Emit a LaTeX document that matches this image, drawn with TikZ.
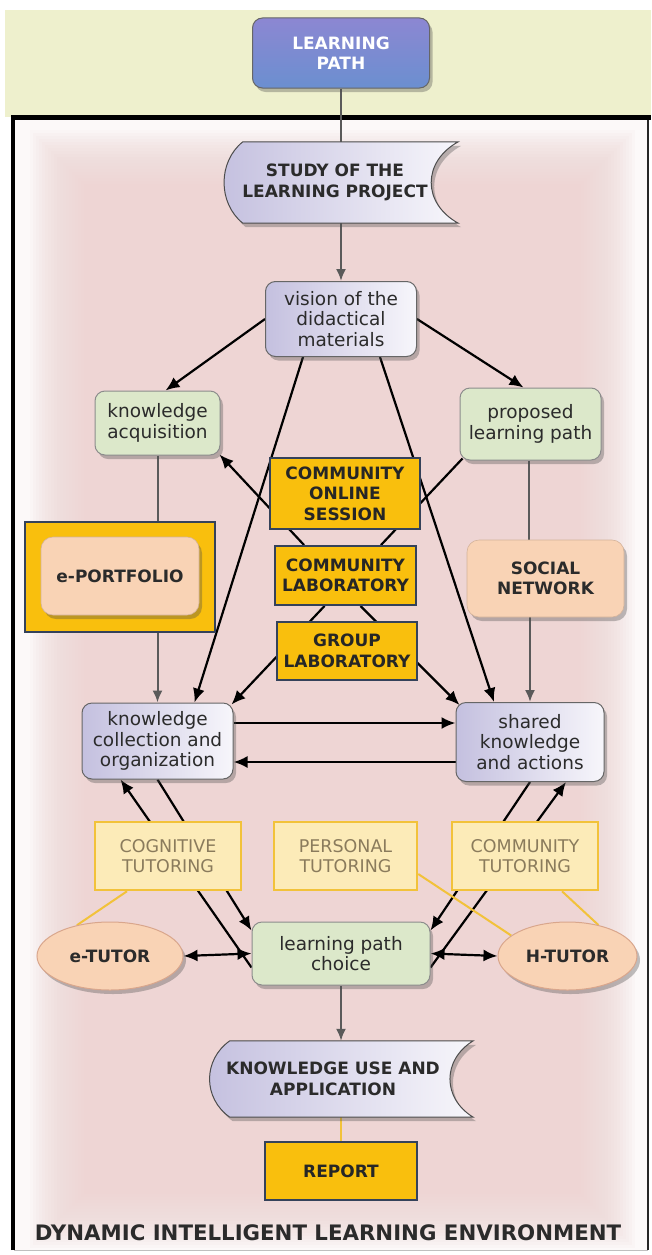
\documentclass[tikz,border=0pt]{standalone}
\usepackage{fontspec}
\setmainfont{DejaVu Sans}
\usetikzlibrary{shapes.geometric,shadows,arrows.meta,calc}
\pgfdeclarelayer{back}\pgfdeclarelayer{conn}\pgfdeclarelayer{docs}
\pgfsetlayers{back,conn,docs,main}
\definecolor{topband}{HTML}{EEF0CD}
\definecolor{pinkc}{HTML}{EED5D4}
\definecolor{edgew}{HTML}{FCF9F9}
\definecolor{lpA}{HTML}{8C87D2}
\definecolor{lpB}{HTML}{6B8FD0}
\definecolor{lavL}{HTML}{C4C0DF}
\definecolor{lavR}{HTML}{F7F6FB}
\definecolor{grn}{HTML}{DCE8CA}
\definecolor{peach}{HTML}{F9D3B5}
\definecolor{peachd}{HTML}{D9A68C}
\definecolor{orng}{HTML}{F9BF0D}
\definecolor{slate}{HTML}{34425A}
\definecolor{tutf}{HTML}{FCEBB8}
\definecolor{tutb}{HTML}{F2C23A}
\definecolor{tutt}{HTML}{8A7B5C}
\definecolor{txt}{HTML}{2B2B2B}
\definecolor{grayline}{HTML}{5A5A5A}
\tikzset{
  base/.style={align=center, text=txt, inner sep=0pt, font=\fontsize{18.5}{20.5}\selectfont},
  capsfont/.style={font=\bfseries\fontsize{17}{20.5}\selectfont},
  shad/.style={drop shadow={opacity=0.35, shadow xshift=3pt, shadow yshift=-4pt, fill=black!70}},
  lpbox/.style={base, capsfont, text=white, rounded corners=10pt, draw=black!60, line width=1pt, top color=lpA, bottom color=lpB, shad},
  lav/.style={base, rounded corners=10pt, draw=black!60, line width=1pt, left color=lavL, right color=lavR, shad},
  grnbox/.style={base, rounded corners=10pt, draw=black!45, line width=1pt, fill=grn, shad},
  orbox/.style={base, capsfont, draw=slate, line width=2pt, fill=orng, text=black!85},
  tut/.style={base, font=\fontsize{17.5}{20.5}\selectfont, draw=tutb, line width=2.5pt, fill=tutf, text=tutt},
  peachbox/.style={base, capsfont, rounded corners=12pt, fill=peach, draw=peach!85!black, line width=0.6pt, shad},
  ell/.style={base, capsfont, ellipse, fill=peach, draw=peachd, line width=1pt, shad},
  docnode/.style={base, capsfont},
  docst/.style={left color=lavL, right color=lavR, draw=black!70, line width=1pt, shad},
  arr/.style={line width=2.2pt, black, -{Latex[length=14pt,width=12pt]}},
  dbl/.style={line width=2.2pt, black, {Latex[length=14pt,width=12pt]}-{Latex[length=14pt,width=12pt]}},
  plain/.style={line width=2.2pt, black},
  garr/.style={line width=2pt, grayline, -{Latex[length=12pt,width=10pt]}},
  gline/.style={line width=2pt, grayline},
  ylink/.style={line width=2pt, tutb}
}
\begin{document}
\begin{tikzpicture}[x=1pt,y=-1pt]
\useasboundingbox (0,0) rectangle (651,1255);
\begin{pgfonlayer}{back}
\fill[white] (0,0) rectangle (651,1255);
\fill[topband] (5,10) rectangle (651,117);
\fill[edgew] (14,118) rectangle (648,1250);
\foreach \i in {0,...,19}
  \fill[pinkc, opacity=0.1] (30+3*\i,130+3*\i) rectangle (635-3*\i,1248-3*\i);
\draw[black!25, line width=1pt] (14,1250) -- (648,1250);
\draw[black!85, line width=2pt] (648,117) -- (648,1250);
\draw[black, line width=4.5pt] (13,1250) -- (13,117.5) -- (651,117.5);
\end{pgfonlayer}

% nodes
\node[lpbox, minimum width=177, minimum height=70] (lp) at (341,53) {LEARNING\\PATH};
\node[docnode, minimum width=220, minimum height=81] (study) at (335,182.5) {STUDY OF THE\\LEARNING PROJECT};
\node[lav, minimum width=151, minimum height=75] (vision) at (341,319) {vision of the\\didactical\\materials};
\node[grnbox, minimum width=125, minimum height=64] (ka) at (157.5,423) {knowledge\\acquisition};
\node[grnbox, minimum width=141, minimum height=72] (pl) at (530.5,424) {proposed\\learning path};
\node[orbox, minimum width=150, minimum height=71] (cos) at (345,493.5) {COMMUNITY\\ONLINE\\SESSION};
\node[orbox, minimum width=141, minimum height=59] (cl) at (345.5,575.5) {COMMUNITY\\LABORATORY};
\node[orbox, minimum width=140, minimum height=58] (gl) at (347,651) {GROUP\\LABORATORY};
\node[orbox, minimum width=190, minimum height=110] (epo) at (120,577) {};
\node[peachbox, minimum width=158, minimum height=78] (ep) at (120,576) {e-PORTFOLIO};
\node[peachbox, minimum width=157, minimum height=77] (sn) at (545.5,578.5) {SOCIAL\\NETWORK};
\node[lav, minimum width=151, minimum height=76] (kc) at (157.5,741) {knowledge\\collection and\\organization};
\node[lav, minimum width=148, minimum height=79] (sk) at (530,742) {shared\\knowledge\\and actions};
\node[tut, minimum width=146, minimum height=68] (cog) at (168,856) {COGNITIVE\\TUTORING};
\node[tut, minimum width=143, minimum height=68] (per) at (345.5,856) {PERSONAL\\TUTORING};
\node[tut, minimum width=146, minimum height=68] (com) at (525,856) {COMMUNITY\\TUTORING};
\node[ell, minimum width=146, minimum height=68] (et) at (110,956) {e-TUTOR};
\node[ell, minimum width=139, minimum height=68] (ht) at (567.5,956) {H-TUTOR};
\node[grnbox, minimum width=178, minimum height=63] (lpc) at (341,953.5) {learning path\\choice};
\node[docnode, minimum width=220, minimum height=76] (ku) at (333,1079) {KNOWLEDGE USE AND\\APPLICATION};
\node[orbox, minimum width=152, minimum height=58] (rep) at (341,1171) {REPORT};
\node[base, font=\bfseries\fontsize{21.3}{24}\selectfont] (title) at (328,1233) {DYNAMIC INTELLIGENT LEARNING ENVIRONMENT};

% document shapes
\begin{pgfonlayer}{docs}
\path[docst] ([xshift=18pt]study.north west) -- ([xshift=13pt]study.north east)
  .. controls ([xshift=-23pt,yshift=-20pt]study.north east) and ([xshift=-23pt,yshift=20pt]study.south east) .. ([xshift=13pt]study.south east)
  -- ([xshift=18pt]study.south west)
  .. controls ([xshift=-7pt,yshift=20pt]study.south west) and ([xshift=-7pt,yshift=-20pt]study.north west) .. cycle;
\path[docst] ([xshift=7pt]ku.north west) -- ([xshift=30pt]ku.north east)
  .. controls ([xshift=-1pt,yshift=-19pt]ku.north east) and ([xshift=-1pt,yshift=19pt]ku.south east) .. ([xshift=30pt]ku.south east)
  -- ([xshift=7pt]ku.south west)
  .. controls ([xshift=-20pt,yshift=19pt]ku.south west) and ([xshift=-20pt,yshift=-19pt]ku.north west) .. cycle;
\end{pgfonlayer}

% connectors
\begin{pgfonlayer}{conn}
\draw[gline] (lp.south) -- (lp.south |- study.north);
\draw[garr] (vision.north |- study.south) -- (vision.north);
\draw[arr] (vision.west) -- ([xshift=8pt]ka.north);
\draw[arr] (vision.east) -- ([xshift=-7pt]pl.north);
\draw[arr] ([xshift=-38pt]vision.south) -- ([xshift=37pt]kc.north);
\draw[arr] ([xshift=39pt]vision.south) -- ([xshift=-36pt]sk.north);
\draw[arr] ([xshift=30pt]cl.north west) -- ([xshift=-1pt,yshift=1pt]ka.south east);
\draw[plain] ([xshift=3pt,yshift=2pt]pl.south west) -- ([xshift=-36pt]cl.north east);
\draw[arr] ([xshift=-21pt]cl.south) -- ([xshift=-2pt,yshift=-2pt]kc.north east);
\draw[arr] ([xshift=15pt]cl.south) -- ([xshift=4pt,yshift=-3pt]sk.north west);
\draw[gline] (ka.south) -- (ka.south |- epo.north);
\draw[garr] (kc.north |- epo.south) -- (kc.north);
\draw[gline] ([xshift=-1.5pt]pl.south) -- ([xshift=-1.5pt]pl.south |- sn.north);
\draw[garr] (sk.north |- sn.south) -- (sk.north);
\draw[arr] ([yshift=18pt]kc.east) -- ([yshift=19pt]sk.west);
\draw[arr] ([yshift=-20pt]sk.west) -- ([yshift=-21pt]kc.east);
\draw[arr] ([yshift=-14pt]lpc.west) -- ([xshift=-37pt]kc.south);
\draw[arr] (kc.south) -- ([yshift=23pt]lpc.west);
\draw[arr] (sk.south) -- ([yshift=23pt]lpc.east);
\draw[arr] ([yshift=-14pt]lpc.east) -- ([xshift=36pt]sk.south);
\draw[dbl] (et.east) -- (lpc.west);
\draw[dbl] (lpc.east) -- (ht.west);
\draw[garr] (lpc.south) -- (lpc.south |- ku.north);
\draw[ylink] (rep.north |- ku.south) -- (rep.north);
\draw[ylink] ([xshift=-41pt]cog.south) -- (et.137);
\draw[ylink] ([yshift=-18pt]per.east) -- (ht.160);
\draw[ylink] ([xshift=37pt]com.south) -- (ht.45);
\end{pgfonlayer}
\end{tikzpicture}
\end{document}
